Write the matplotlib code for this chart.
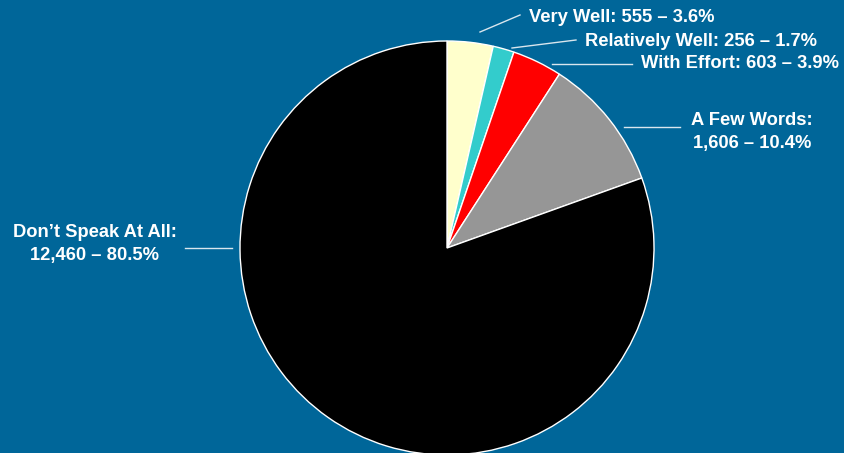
import matplotlib
matplotlib.use("Agg")
import matplotlib.pyplot as plt

categories = ["Very Well", "Relatively Well", "With Effort", "A Few Words", "Don\u2019t Speak At All"]
counts = [555, 256, 603, 1606, 12460]
percents = ["3.6%", "1.7%", "3.9%", "10.4%", "80.5%"]
colors = ["#FFFFCC", "#33CCCC", "#FF0000", "#969696", "#000000"]

W, H = 845, 453
bg = "#006699"
fig = plt.figure(figsize=(W / 100, H / 100), dpi=100)
fig.patch.set_facecolor(bg)
ax = fig.add_axes([0, 0, 1, 1])
ax.set_facecolor(bg)

cx, cy, r = 447, H - 248, 207
ax.pie(counts, colors=colors, startangle=90, counterclock=False,
       center=(cx, cy), radius=r, frame=True,
       wedgeprops=dict(edgecolor="white", linewidth=1))
ax.set_xlim(0, W)
ax.set_ylim(0, H)
ax.set_aspect("equal")
ax.axis("off")

labels = [f"{c}: {n:,} \u2013 {p}" for c, n, p in zip(categories, counts, percents)]

# leader lines (pixel coords, top-origin)
lines = [
    ((480, 32), (520, 15)),
    ((512, 48), (576, 40)),
    ((552, 64), (632, 64)),
    ((624, 127), (680, 127)),
    ((185, 248), (232, 248)),
]
for (x1, y1), (x2, y2) in lines:
    ax.plot([x1, x2], [H - y1, H - y2], color="#D9E6EE", linewidth=1)

font = dict(family=["Liberation Sans", "DejaVu Sans"], fontsize=13.2, fontweight="bold", color="white")
ax.text(529, H - 17, labels[0], ha="left", va="center", **font)
ax.text(585, H - 41, labels[1], ha="left", va="center", **font)
ax.text(641, H - 64, labels[2], ha="left", va="center", **font)
ax.text(752, H - 132, f"{categories[3]}:\n{counts[3]:,} \u2013 {percents[3]}",
        ha="center", va="center", linespacing=1.4, **font)
ax.text(95, H - 244, f"{categories[4]}:\n{counts[4]:,} \u2013 {percents[4]}",
        ha="center", va="center", linespacing=1.4, **font)

fig.savefig("out.png", dpi=100, facecolor=bg)
